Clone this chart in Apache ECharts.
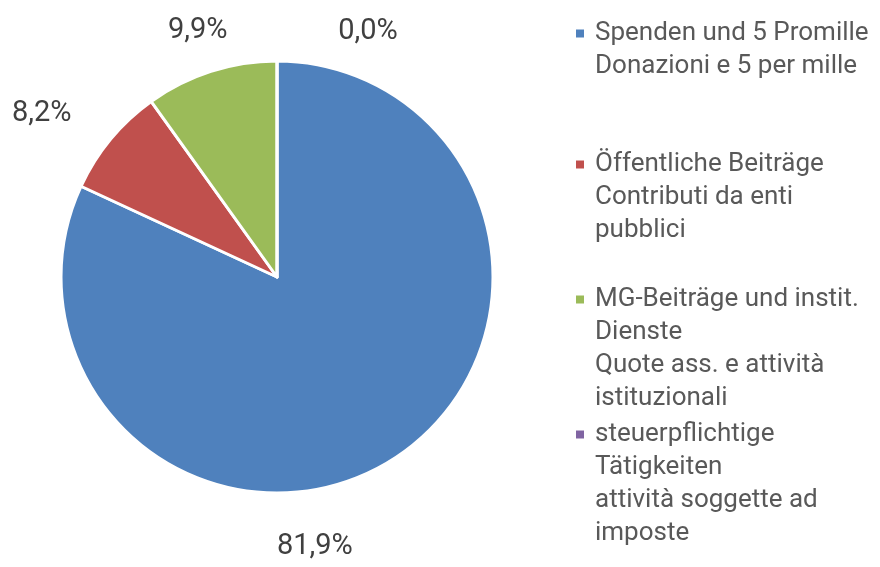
<!DOCTYPE html>
<html>
<head>
<meta charset="utf-8">
<script src="https://cdn.jsdelivr.net/npm/echarts@6/dist/echarts.min.js"></script>
<style>
  html, body { margin: 0; padding: 0; background: #fff; }
  #chart { width: 880px; height: 567px; }
</style>
</head>
<body>
<div id="chart"></div>
<script>
const categories = [
  "Spenden und 5 Promille\nDonazioni e 5 per mille",
  "Öffentliche Beiträge\nContributi da enti\npubblici",
  "MG-Beiträge und instit.\nDienste\nQuote ass. e attività\nistituzionali",
  "steuerpflichtige\nTätigkeiten\nattività soggette ad\nimposte",
];
const shares = [81.9, 8.2, 9.9, 0.0];
const colors = ["#4f81bd", "#c0504d", "#9bbb59", "#8064a2"];

// label nudges (Excel "best fit" placement)
const labelShift = [[-105, 54], [-33, 0], [4, -3], [96, 11]];

const FONT = "Roboto, 'Noto Sans', sans-serif";
const LH = 33;
const legendFirstLine = [32, 163, 298, 433];

const chart = echarts.init(document.getElementById("chart"));

// one legend per entry so the marker sits on the first text line
const legends = categories.map((name, i) => {
  const n = name.split("\n").length;
  return {
    orient: "vertical",
    left: 574,
    top: legendFirstLine[i] - (n - 1) * LH - 15,
    padding: 0,
    itemWidth: 10,
    itemHeight: 10,
    icon: "rect",
    data: [name],
    formatter: (s) => "\n".repeat(n - 1) + s,
    textStyle: {
      fontFamily: FONT,
      fontSize: 26,
      color: "#595959",
      lineHeight: LH,
      padding: [0, 0, 0, 5],
    },
  };
});

chart.setOption({
  backgroundColor: "#fff",
  animation: false,
  color: colors,
  legend: legends,
  series: [
    {
      type: "pie",
      center: [277, 277],
      radius: 216,
      startAngle: 90,
      clockwise: true,
      avoidLabelOverlap: false,
      itemStyle: { borderColor: "#fff", borderWidth: 3 },
      label: {
        show: true,
        position: "outside",
        fontFamily: FONT,
        fontSize: 29,
        color: "#404040",
        formatter: (p) => p.value.toFixed(1).replace(".", ",") + "%",
      },
      labelLine: { show: false, length: 40, length2: 0 },
      labelLayout: (p) => ({
        align: "center",
        verticalAlign: "middle",
        dx: labelShift[p.dataIndex][0],
        dy: labelShift[p.dataIndex][1],
      }),
      emphasis: { scale: false },
      data: categories.map((name, i) => ({ name, value: shares[i] })),
    },
  ],
});
</script>
</body>
</html>
